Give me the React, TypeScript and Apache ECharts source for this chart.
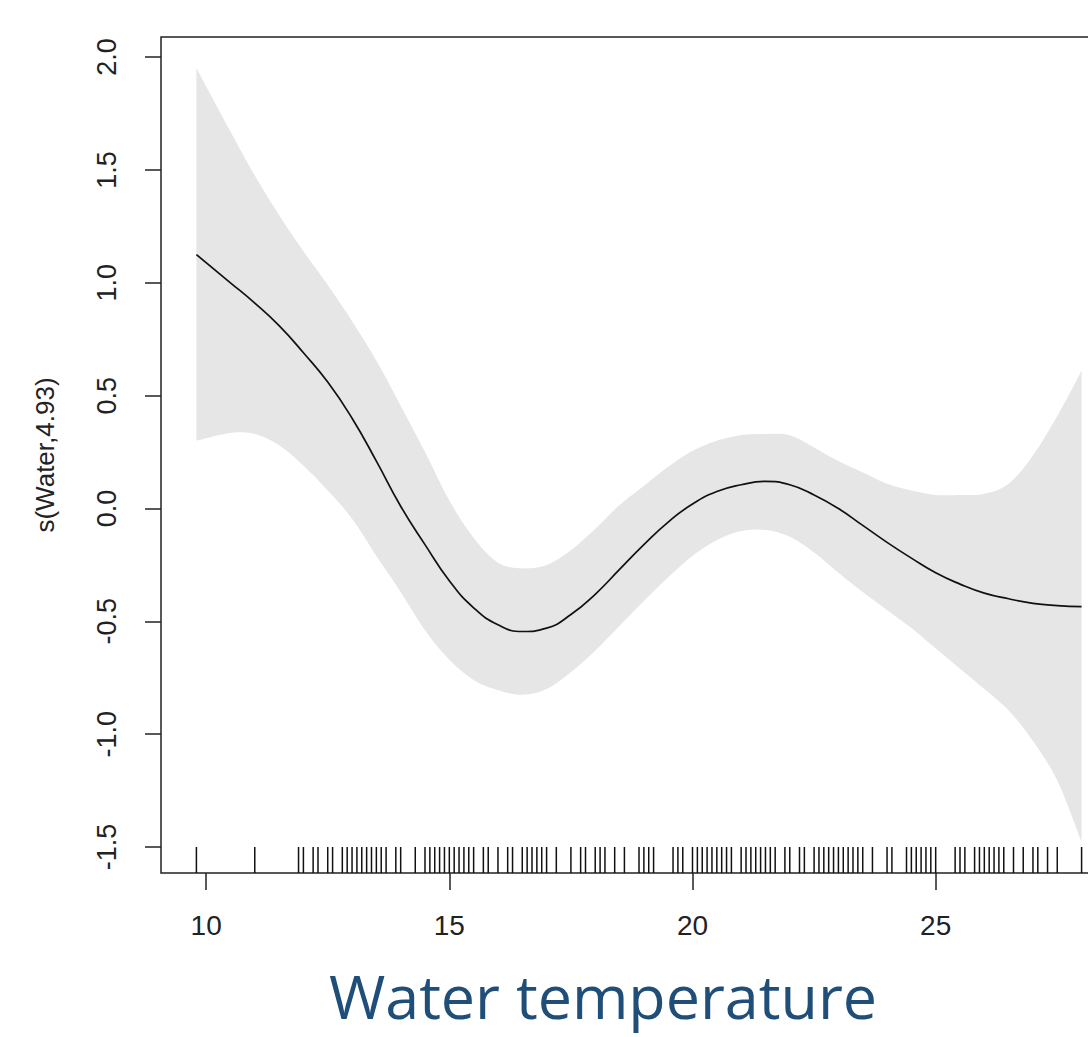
import React, { useEffect, useRef } from "react";
import * as echarts from "echarts";

// Fitted smooth term s(Water,4.93) and its confidence band
const xs = [9.8, 10.5, 11, 11.5, 12, 12.5, 13, 13.5, 14, 14.5, 15, 15.5, 16, 16.5, 17, 17.5, 18, 18.5, 19, 19.5, 20, 20.5, 21, 21.5, 22, 22.5, 23, 23.5, 24, 24.5, 25, 25.5, 26, 26.5, 27, 27.5, 28];
const fit = [1.125, 1.0, 0.91, 0.81, 0.69, 0.56, 0.4, 0.21, 0.01, -0.16, -0.32, -0.44, -0.515, -0.545, -0.53, -0.47, -0.38, -0.27, -0.16, -0.06, 0.02, 0.075, 0.105, 0.12, 0.105, 0.06, 0.0, -0.075, -0.15, -0.22, -0.285, -0.335, -0.375, -0.4, -0.42, -0.43, -0.435];
const upper = [1.951, 1.67, 1.475, 1.3, 1.14, 0.99, 0.83, 0.655, 0.455, 0.25, 0.035, -0.13, -0.24, -0.265, -0.25, -0.185, -0.09, 0.015, 0.1, 0.185, 0.255, 0.3, 0.325, 0.33, 0.325, 0.27, 0.21, 0.16, 0.11, 0.08, 0.06, 0.06, 0.065, 0.11, 0.235, 0.41, 0.61];
const lower = [0.3, 0.335, 0.33, 0.28, 0.19, 0.08, -0.045, -0.21, -0.37, -0.54, -0.67, -0.76, -0.805, -0.825, -0.8, -0.725, -0.63, -0.52, -0.41, -0.305, -0.21, -0.14, -0.1, -0.095, -0.125, -0.195, -0.285, -0.37, -0.45, -0.53, -0.62, -0.71, -0.8, -0.895, -1.03, -1.205, -1.478];

// Rug of observed water temperatures
const rugX = [9.8, 11.0, 11.9, 12.0, 12.2, 12.3, 12.5, 12.6, 12.8, 12.9, 13.0, 13.1, 13.2, 13.3, 13.4, 13.5, 13.6, 13.7, 13.9, 14.0, 14.3, 14.5, 14.6, 14.7, 14.8, 14.9, 15.0, 15.1, 15.2, 15.3, 15.4, 15.5, 15.7, 15.8, 16.0, 16.2, 16.3, 16.5, 16.6, 16.7, 16.8, 16.9, 17.0, 17.2, 17.5, 17.7, 17.8, 18.0, 18.1, 18.2, 18.4, 18.6, 18.9, 19.0, 19.1, 19.2, 19.6, 19.7, 19.8, 20.0, 20.1, 20.2, 20.3, 20.4, 20.5, 20.6, 20.7, 20.8, 21.0, 21.1, 21.2, 21.3, 21.4, 21.5, 21.6, 21.7, 21.9, 22.0, 22.2, 22.3, 22.5, 22.6, 22.7, 22.8, 22.9, 23.0, 23.1, 23.2, 23.3, 23.4, 23.5, 23.7, 24.0, 24.1, 24.4, 24.5, 24.6, 24.7, 24.8, 24.9, 25.0, 25.4, 25.5, 25.6, 25.8, 25.9, 26.0, 26.1, 26.2, 26.3, 26.4, 26.6, 26.8, 27.0, 27.1, 27.3, 27.5, 28.0];

const xTicks = [10, 15, 20, 25];
const yTicks = [-1.5, -1.0, -0.5, 0.0, 0.5, 1.0, 1.5, 2.0];

const X_MIN = 9.072;
const X_MAX = 28.728;
const Y_MIN = -1.615;
const Y_MAX = 2.089;

// Catmull-Rom smoothing of a pixel polyline (rendering only)
function smoothPath(pts: number[][], steps: number): number[][] {
  const out: number[][] = [];
  for (let i = 0; i < pts.length - 1; i++) {
    const p0 = pts[Math.max(0, i - 1)];
    const p1 = pts[i];
    const p2 = pts[i + 1];
    const p3 = pts[Math.min(pts.length - 1, i + 2)];
    for (let s = 0; s < steps; s++) {
      const t = s / steps;
      const t2 = t * t;
      const t3 = t2 * t;
      const f = (a: number, b: number, c: number, d: number) =>
        0.5 * (2 * b + (-a + c) * t + (2 * a - 5 * b + 4 * c - d) * t2 + (-a + 3 * b - 3 * c + d) * t3);
      out.push([f(p0[0], p1[0], p2[0], p3[0]), f(p0[1], p1[1], p2[1], p3[1])]);
    }
  }
  out.push(pts[pts.length - 1]);
  return out;
}

export default function App() {
  const ref = useRef<HTMLDivElement>(null);

  useEffect(() => {
    if (!ref.current) return;
    const chart = echarts.init(ref.current, null, { renderer: "svg" });
    const font = "'Liberation Sans', Arial, sans-serif";
    const ink = "#222";

    chart.setOption({
      animation: false,
      backgroundColor: "#ffffff",
      grid: {
        left: 161,
        top: 37,
        width: 956,
        height: 836,
        show: true,
        borderColor: ink,
        borderWidth: 1.5,
        backgroundColor: "transparent",
        containLabel: false,
      },
      xAxis: {
        type: "value",
        min: X_MIN,
        max: X_MAX,
        axisLine: { show: false, onZero: false },
        splitLine: { show: false },
        axisTick: {
          show: true,
          length: 17,
          customValues: xTicks,
          lineStyle: { color: ink, width: 1.5 },
        },
        axisLabel: {
          customValues: xTicks,
          margin: 38,
          fontSize: 28,
          color: ink,
          fontFamily: font,
          formatter: (v: number) => String(v),
        },
      },
      yAxis: {
        type: "value",
        min: Y_MIN,
        max: Y_MAX,
        name: "s(Water,4.93)",
        nameLocation: "middle",
        nameRotate: 90,
        nameGap: 103,
        nameTextStyle: { fontSize: 26, color: ink, fontFamily: font },
        axisLine: { show: false, onZero: false },
        splitLine: { show: false },
        axisTick: {
          show: true,
          length: 16,
          customValues: yTicks,
          lineStyle: { color: ink, width: 1.5 },
        },
        axisLabel: {
          customValues: yTicks,
          rotate: 90,
          margin: 41,
          fontSize: 27,
          color: ink,
          fontFamily: font,
          formatter: (v: number) => v.toFixed(1),
        },
      },
      graphic: [
        {
          type: "text",
          x: 603,
          y: 995,
          style: {
            text: "Water temperature",
            fontSize: 61,
            fontFamily: "'Open Sans', Lato, sans-serif",
            fill: "#1f4e79",
            align: "center",
            verticalAlign: "middle",
          },
        },
      ],
      series: [
        {
          type: "custom",
          name: "band",
          data: [[xs[0], lower[0]]],
          silent: true,
          z: 1,
          renderItem: (_params: any, api: any) => {
            const up = smoothPath(xs.map((x, i) => api.coord([x, upper[i]])), 8);
            const lo = smoothPath(xs.map((x, i) => api.coord([x, lower[i]])), 8);
            const pts = up.concat(lo.reverse());
            return {
              type: "polygon",
              shape: { points: pts },
              style: { fill: "#e6e6e6", stroke: "none" },
            };
          },
        },
        {
          type: "line",
          name: "fit",
          data: xs.map((x, i) => [x, fit[i]]),
          symbol: "none",
          smooth: true,
          lineStyle: { color: "#111", width: 1.7 },
          silent: true,
          z: 3,
        },
        {
          type: "custom",
          name: "rug",
          data: rugX.map((x) => [x, Y_MIN]),
          silent: true,
          z: 4,
          renderItem: (_params: any, api: any) => {
            const p = api.coord([api.value(0), Y_MIN]);
            return {
              type: "line",
              shape: { x1: p[0], y1: p[1], x2: p[0], y2: p[1] - 26 },
              style: { stroke: "#111", lineWidth: 1.5 },
            };
          },
        },
      ],
    });

    return () => chart.dispose();
  }, []);

  return (
    <div
      style={{ position: "absolute", left: 0, top: 0, width: 1088, height: 1037, overflow: "hidden" }}
    >
      <div ref={ref} style={{ width: 1130, height: 1037 }} />
    </div>
  );
}
